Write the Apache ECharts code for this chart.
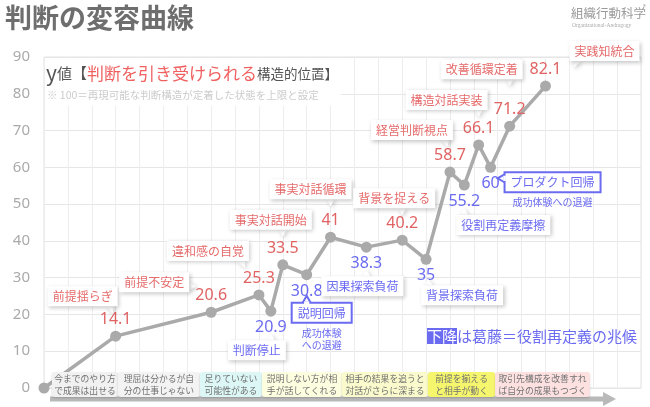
<!DOCTYPE html>
<html><head><meta charset="utf-8">
<script src="https://cdn.jsdelivr.net/npm/echarts@6/dist/echarts.min.js"></script>
<style>html,body{margin:0;padding:0;background:#fff}#c{width:650px;height:407px}</style>
</head><body><div id="c"></div>
<script>
// ---- data ----
const xStep = [0, 3, 7, 9, 9.5, 10, 11, 12, 13.5, 15, 16, 17, 17.6, 18.2, 18.7, 19.5, 21];
const yValue = [0, 14.1, 20.6, 25.3, 20.9, 33.5, 30.8, 41, 38.3, 40.2, 35, 58.7, 55.2, 66.1, 60, 71.2, 82.1];
const stageName = ['', '前提揺らぎ', '前提不安定', '違和感の自覚', '判断停止', '事実対話開始', '説明回帰', '事実対話循環',
  '因果探索負荷', '背景を捉える', '背景探索負荷', '経営判断視点', '役割再定義摩擦', '構造対話実装', 'プロダクト回帰', '改善循環定着', '実践知統合'];
const isDrop = [false, false, false, false, true, false, true, false, true, false, true, false, true, false, true, false, false];
const dropNote = ['', '', '', '', '', '', '成功体験\nへの退避', '', '', '', '', '', '', '', '成功体験への退避', '', ''];
const bandLabel = ['今までのやり方\nで成果は出せる', '理屈は分かるが自\n分の仕事じゃない', '足りていない\n可能性がある',
  '説明しない方が相\n手が話してくれる', '相手の結果を追うと\n対話がさらに深まる', '前提を揃える\nと相手が動く', '取引先構成を改善すれ\nば自分の成果もつづく'];
const yTicks = [0, 10, 20, 30, 40, 50, 60, 70, 80, 90];
const titleText = '判断の変容曲線';
const noteText = '※ 100＝再現可能な判断構造が定着した状態を上限と設定';
const dropText = ['下降', 'は葛藤＝役割再定義の兆候'];

// ---- layout / style ----
const bandEdges = [0.33, 3.1, 6.53, 9.13, 12.48, 16.08, 18.89, 22.86];
const bandColor = ['#f1f1f1', '#f3f3f3', '#ddf7f7', '#fdfde0', '#fafacd', '#f6f66e', '#fde1e1'];
const calloutDx = [0, -33, -57, -51, -14, -12, 15, -20, -4, -8, 36, -38, 39, -32, 62, -28, 59];
const calloutDy = [0, -40, -30, -44, 39, -45, 38, -48, 39, -42, 36, -42, 40, -45, 15, -57, -35];
const FONT = "'Noto Sans CJK JP','Noto Sans',sans-serif";
const RED = '#e06262', RED2 = '#e56a6a', BLUE = '#6b6bf2', GRAY = '#aaaaaa';
const clamp = (v, a, b) => Math.max(a, Math.min(b, v));

function calloutItem(params, api) {
  const i = api.value(2);
  const name = stageName[i];
  if (!name) return { type: 'group', children: [] };
  const p = api.coord([api.value(0), api.value(1)]);
  const boxed = dropNote[i] !== '';
  const col = isDrop[i] ? BLUE : RED2;
  const fs = 12;
  const w = name.length * fs + (boxed ? 12 : 10), h = 20;
  const dx = calloutDx[i], dy = calloutDy[i];
  const cx = p[0] + dx, cy = p[1] + dy;
  const l = cx - w / 2, t = cy - h / 2, r = l + w, b = t + h;
  const side = Math.abs(dx) - w / 2 > Math.abs(dy) - h / 2;
  let tail, eraser;
  if (side) {
    const ex = dx > 0 ? l : r;
    const dir = dx > 0 ? -1 : 1;
    const by = clamp(p[1], t + 6, b - 6);
    tail = [[ex, by - 4], [ex + dir * 7, by], [ex, by + 4]];
    eraser = { x1: ex, y1: by - 2.6, x2: ex, y2: by + 2.6 };
  } else {
    const ey = dy < 0 ? b : t;
    const dir = dy < 0 ? 1 : -1;
    const bx = clamp(p[0], l + 8, r - 8);
    const ax = bx + clamp((p[0] - bx) * 0.5, -4, 4);
    tail = [[bx - 4, ey], [ax, ey + dir * 7], [bx + 4, ey]];
    eraser = { x1: bx - 2.6, y1: ey, x2: bx + 2.6, y2: ey };
  }
  const shadow = boxed ? {} : { shadowBlur: 4, shadowColor: 'rgba(0,0,0,0.22)', shadowOffsetX: 1.5, shadowOffsetY: 1.5 };
  const children = [
    { type: 'polygon', shape: { points: tail }, style: Object.assign({ fill: '#fff', stroke: boxed ? BLUE : null, lineWidth: boxed ? 2 : 0 }, shadow) },
    { type: 'rect', shape: { x: l, y: t, width: w, height: h }, style: Object.assign({ fill: '#fff', stroke: boxed ? BLUE : null, lineWidth: boxed ? 2 : 0 }, shadow) },
    { type: 'text', style: { text: name, x: cx, y: cy + 0.5, align: 'center', verticalAlign: 'middle', fill: col, fontSize: fs, fontFamily: FONT } }
  ];
  if (boxed) {
    children.splice(2, 0, { type: 'line', shape: eraser, style: { stroke: '#fff', lineWidth: 2.6 } });
    children.push({ type: 'text', style: { text: dropNote[i], x: cx, y: b + 4, align: 'center', verticalAlign: 'top', fill: BLUE, fontSize: 10, lineHeight: 12, fontFamily: FONT } });
  }
  return { type: 'group', children };
}

function bandItem(params, api) {
  const i = api.value(2);
  const a = api.coord([api.value(0), 0]);
  const c = api.coord([api.value(1), 0]);
  const top = a[1] - 16, hgt = 25;
  return {
    type: 'group', children: [
      { type: 'rect', shape: { x: a[0], y: top, width: c[0] - a[0], height: hgt, r: 3 }, style: { fill: bandColor[i], shadowBlur: 2, shadowColor: 'rgba(0,0,0,0.18)', shadowOffsetY: 1 } },
      { type: 'text', style: { text: bandLabel[i], x: (a[0] + c[0]) / 2, y: top + hgt / 2 + 0.5, align: 'center', verticalAlign: 'middle', fontSize: 8.8, lineHeight: 12, fill: '#707070', fontFamily: FONT } }
    ]
  };
}

const chart = echarts.init(document.getElementById('c'), null, { renderer: 'canvas' });
const option = {
  animation: false,
  backgroundColor: '#fff',
  textStyle: { fontFamily: FONT },
  grid: { left: 44, right: 9, top: 57, bottom: 19, show: true, borderColor: '#e2e2e2', borderWidth: 1 },
  xAxis: {
    type: 'value', min: 0, max: 25, interval: 1,
    axisLine: { show: false }, axisTick: { show: false }, axisLabel: { show: false },
    splitLine: { lineStyle: { color: '#ededed', width: 1 } }
  },
  yAxis: {
    type: 'value', min: yTicks[0], max: yTicks[yTicks.length - 1], interval: yTicks[1] - yTicks[0],
    axisLine: { show: false }, axisTick: { show: false },
    axisLabel: { color: '#aaaaaa', fontSize: 15, margin: 14, fontFamily: "'Noto Sans',sans-serif" },
    splitLine: { lineStyle: { color: '#e6e6e6', width: 1 } }
  },
  series: [
    {
      type: 'line', z: 3,
      data: xStep.map((x, i) => ({
        value: [x, yValue[i]],
        label: { show: i > 0, position: isDrop[i] ? 'bottom' : 'top', color: isDrop[i] ? BLUE : RED }
      })),
      symbol: 'circle', symbolSize: 11,
      itemStyle: { color: GRAY },
      lineStyle: { color: GRAY, width: 3.5 },
      label: { show: true, fontSize: 16, distance: 3, fontFamily: "'Noto Sans',sans-serif", formatter: p => String(p.value[1]) }
    },
    { type: 'custom', z: 4, clip: false, renderItem: calloutItem, data: xStep.map((x, i) => [x, yValue[i], i]) },
    { type: 'custom', z: 5, clip: false, renderItem: bandItem, data: bandLabel.map((t, i) => [bandEdges[i], bandEdges[i + 1], i]) }
  ],
  graphic: [
    { type: 'text', left: 5, top: 4, z: 10, style: { text: titleText, fontSize: 27, fontWeight: 'bold', fill: '#6e6e6e', fontFamily: FONT } },
    { type: 'text', left: 571, top: 7, z: 10, style: { text: '組織行動科学', fontSize: 12.5, fill: '#9a9a9a', fontFamily: FONT } },
    { type: 'text', left: 643, top: 4, z: 10, style: { text: '®', fontSize: 6, fill: '#9a9a9a', fontFamily: FONT } },
    { type: 'text', left: 572, top: 23, z: 10, style: { text: 'Organizational-Andragogy', fontSize: 5.5, fill: '#aaa', fontFamily: "'Liberation Serif',serif" } },
    { type: 'rect', left: 45, top: 58, z: 9, shape: { width: 296, height: 48 }, style: { fill: '#fff' } },
    { type: 'text', left: 46, top: 63, z: 10, style: {
        text: '{y|y}{a|値}{b|【}{r|判断を引き受けられる}{g|構造的位置】}',
        rich: {
          y: { fontSize: 21, fill: '#555', fontFamily: FONT },
          a: { fontSize: 15, fill: '#555', fontFamily: FONT },
          b: { fontSize: 15, fill: '#555', fontFamily: FONT },
          r: { fontSize: 17, fill: '#f06060', fontFamily: FONT },
          g: { fontSize: 13.5, fill: '#555', fontFamily: FONT }
        } } },
    { type: 'text', left: 47, top: 90, z: 10, style: { text: noteText, fontSize: 10.5, fill: '#cccccc', fontFamily: FONT } },
    { type: 'text', left: 427, top: 328, z: 10, style: {
        text: '{h|' + dropText[0] + '}{t|' + dropText[1] + '}',
        rich: {
          h: { fontSize: 15, fill: '#fff', backgroundColor: BLUE, padding: [1, 0, 0, 0], fontFamily: FONT },
          t: { fontSize: 15, fill: BLUE, fontFamily: FONT }
        } } },
    { type: 'group', z: 1, children: [
        { type: 'line', shape: { x1: 50, y1: 399, x2: 605, y2: 399 }, style: { stroke: '#b9b9b9', lineWidth: 5 } },
        { type: 'polygon', shape: { points: [[603, 392], [616, 399], [603, 406]] }, style: { fill: '#b9b9b9' } }
      ] }
  ]
};
chart.setOption(option);
</script></body></html>
